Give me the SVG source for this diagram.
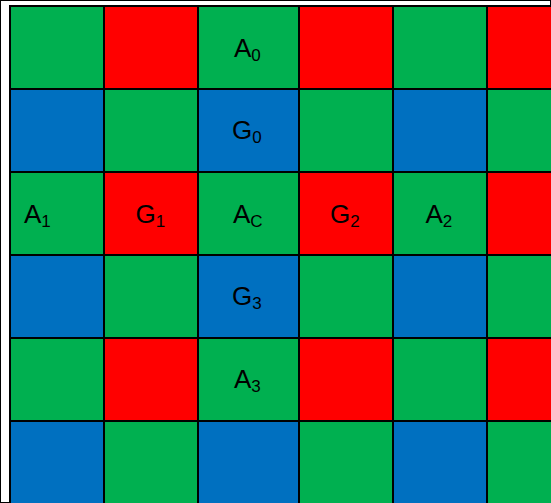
<svg xmlns="http://www.w3.org/2000/svg" width="551" height="503" viewBox="0 0 551 503">
<style>
.g{fill:#00B050}.r{fill:#FF0000}.b{fill:#0070C0}
rect{stroke:#000;stroke-width:2}
text{font-family:"Liberation Sans",Arial,sans-serif;font-size:26px;fill:#000}
.s{font-size:17px}
</style>
<rect x="0" y="0" width="551" height="503" fill="#fff" stroke="none"/>
<g id="row0">
<rect class="g" x="10" y="6" width="94" height="83"/><rect class="r" x="104" y="6" width="94" height="83"/><rect class="g" x="198" y="6" width="101" height="83"/><rect class="r" x="299" y="6" width="94" height="83"/><rect class="g" x="393" y="6" width="94" height="83"/><rect class="r" x="487" y="6" width="94" height="83"/>
</g>
<g id="row1">
<rect class="b" x="10" y="89" width="94" height="83"/><rect class="g" x="104" y="89" width="94" height="83"/><rect class="b" x="198" y="89" width="101" height="83"/><rect class="g" x="299" y="89" width="94" height="83"/><rect class="b" x="393" y="89" width="94" height="83"/><rect class="g" x="487" y="89" width="94" height="83"/>
</g>
<g id="row2">
<rect class="g" x="10" y="172" width="94" height="83"/><rect class="r" x="104" y="172" width="94" height="83"/><rect class="g" x="198" y="172" width="101" height="83"/><rect class="r" x="299" y="172" width="94" height="83"/><rect class="g" x="393" y="172" width="94" height="83"/><rect class="r" x="487" y="172" width="94" height="83"/>
</g>
<g id="row3">
<rect class="b" x="10" y="255" width="94" height="83"/><rect class="g" x="104" y="255" width="94" height="83"/><rect class="b" x="198" y="255" width="101" height="83"/><rect class="g" x="299" y="255" width="94" height="83"/><rect class="b" x="393" y="255" width="94" height="83"/><rect class="g" x="487" y="255" width="94" height="83"/>
</g>
<g id="row4">
<rect class="g" x="10" y="338" width="94" height="83"/><rect class="r" x="104" y="338" width="94" height="83"/><rect class="g" x="198" y="338" width="101" height="83"/><rect class="r" x="299" y="338" width="94" height="83"/><rect class="g" x="393" y="338" width="94" height="83"/><rect class="r" x="487" y="338" width="94" height="83"/>
</g>
<g id="row5">
<rect class="b" x="10" y="421" width="94" height="100"/><rect class="g" x="104" y="421" width="94" height="100"/><rect class="b" x="198" y="421" width="101" height="100"/><rect class="g" x="299" y="421" width="94" height="100"/><rect class="b" x="393" y="421" width="94" height="100"/><rect class="g" x="487" y="421" width="94" height="100"/>
</g>
<g id="labels">
<g id="A0"><text x="234" y="57">A<tspan class="s" dy="4">0</tspan></text></g>
<g id="G0"><text x="232" y="139">G<tspan class="s" dy="4">0</tspan></text></g>
<g id="A1"><text x="24" y="223">A<tspan class="s" dy="4">1</tspan></text></g>
<g id="G1"><text x="135.5" y="223">G<tspan class="s" dy="4">1</tspan></text></g>
<g id="AC"><text x="233" y="223">A<tspan class="s" dy="4">C</tspan></text></g>
<g id="G2"><text x="330" y="223">G<tspan class="s" dy="4">2</tspan></text></g>
<g id="A2"><text x="425.5" y="223">A<tspan class="s" dy="4">2</tspan></text></g>
<g id="G3"><text x="232" y="305">G<tspan class="s" dy="4">3</tspan></text></g>
<g id="A3"><text x="234" y="388">A<tspan class="s" dy="4">3</tspan></text></g>
</g>
</svg>
